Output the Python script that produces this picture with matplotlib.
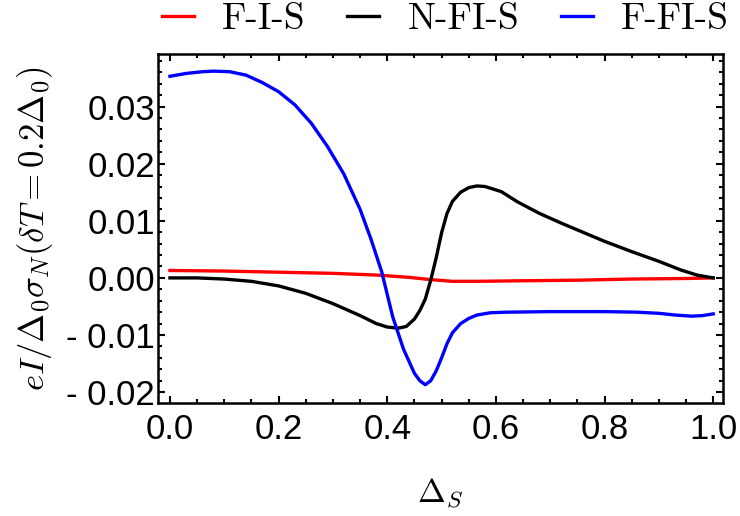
import numpy as np
import matplotlib
matplotlib.use("Agg")
import matplotlib.pyplot as plt
from matplotlib.ticker import MultipleLocator, FuncFormatter

plt.rcParams['mathtext.fontset'] = 'cm'

# values
x_fis = [0.00, 0.10, 0.20, 0.30, 0.38, 0.44, 0.48, 0.52, 0.56, 0.65, 0.75, 0.85, 0.95, 1.00]
y_fis = [0.0013, 0.0012, 0.0010, 0.0008, 0.0005, 0.0001, -0.0003, -0.0006, -0.0006,
         -0.0005, -0.0004, -0.0002, -0.0001, 0.0000]

x_nfis = [0.00, 0.05, 0.10, 0.15, 0.20, 0.25, 0.30, 0.35, 0.38, 0.40, 0.42, 0.435, 0.45,
          0.46, 0.47, 0.48, 0.49, 0.50, 0.51, 0.52, 0.535, 0.55, 0.565, 0.58, 0.61, 0.64,
          0.68, 0.72, 0.76, 0.80, 0.85, 0.90, 0.94, 0.97, 1.00]
y_nfis = [0.0000, 0.0000, -0.0002, -0.0006, -0.0014, -0.0027, -0.0045, -0.0066, -0.0080,
          -0.0086, -0.0088, -0.0085, -0.0072, -0.0057, -0.0037, -0.0004, 0.0035, 0.0079,
          0.0113, 0.0134, 0.0150, 0.0158, 0.0161, 0.0160, 0.0151, 0.0133, 0.0113, 0.0096,
          0.0080, 0.0064, 0.0046, 0.0029, 0.0014, 0.0005, 0.0000]

x_ffis = [0.00, 0.03, 0.06, 0.08, 0.11, 0.14, 0.17, 0.20, 0.23, 0.26, 0.29, 0.32, 0.35,
          0.37, 0.39, 0.41, 0.43, 0.45, 0.46, 0.47, 0.48, 0.49, 0.50, 0.51, 0.52, 0.535,
          0.55, 0.565, 0.59, 0.62, 0.70, 0.80, 0.86, 0.90, 0.93, 0.96, 0.98, 1.00]
y_ffis = [0.0353, 0.0358, 0.0361, 0.0362, 0.0361, 0.0355, 0.0342, 0.0326, 0.0303, 0.0271,
          0.0230, 0.0182, 0.0120, 0.0068, 0.0010, -0.0068, -0.0125, -0.0167, -0.0180,
          -0.0187, -0.0180, -0.0163, -0.0140, -0.0115, -0.0096, -0.0080, -0.0071, -0.0065,
          -0.0061, -0.0060, -0.0059, -0.0059, -0.0060, -0.0062, -0.0065, -0.0067, -0.0066,
          -0.0063]

labels = ['F-I-S', 'N-FI-S', 'F-FI-S']
colors = ['#ff0000', '#000000', '#0000ff']

fig = plt.figure(figsize=(7.4, 5.16), dpi=100)
ax = fig.add_axes([158 / 740, 113 / 516, 565 / 740, 349 / 516])

lw = 2.4
ax.plot(x_fis, y_fis, color=colors[0], lw=lw, label=labels[0])
ax.plot(x_nfis, y_nfis, color=colors[1], lw=lw, label=labels[1])
ax.plot(x_ffis, y_ffis, color=colors[2], lw=lw, label=labels[2])

ax.set_xlim(-0.022, 1.018)
ax.set_ylim(-0.0219, 0.0392)

ax.xaxis.set_major_locator(MultipleLocator(0.2))
ax.xaxis.set_minor_locator(MultipleLocator(0.05))
ax.yaxis.set_major_locator(MultipleLocator(0.01))
ax.yaxis.set_minor_locator(MultipleLocator(0.002))
ax.xaxis.set_major_formatter(FuncFormatter(lambda v, p: f"{v:.1f}"))
ax.yaxis.set_major_formatter(FuncFormatter(
    lambda v, p: f"- {abs(v):.2f}" if v < -1e-9 else f"{abs(v):.2f}"))

ax.tick_params(which='both', direction='in', top=True, right=True, width=1.5)
ax.tick_params(which='major', length=5)
ax.tick_params(which='minor', length=3)
for sp in ax.spines.values():
    sp.set_linewidth(1.8)

tick_font = ['Liberation Sans', 'DejaVu Sans']
for t in ax.get_xticklabels() + ax.get_yticklabels():
    t.set_fontfamily(tick_font)
    t.set_fontsize(25)
ax.tick_params(axis='x', pad=7)
ax.tick_params(axis='y', pad=2)

ax.set_xlabel(r'$\Delta_S$', fontsize=24, labelpad=22)
ax.set_ylabel(r'$eI/\Delta_0\sigma_N(\delta T=0.2\Delta_0)$', fontsize=25, labelpad=8)

fig.legend(loc='center', bbox_to_anchor=(0.602, 0.962), ncol=3, frameon=False,
           prop={'family': 'cmr10', 'size': 27}, handlelength=0.85,
           handletextpad=0.75, columnspacing=1.12, borderaxespad=0)

fig.savefig('out.png', dpi=100)
